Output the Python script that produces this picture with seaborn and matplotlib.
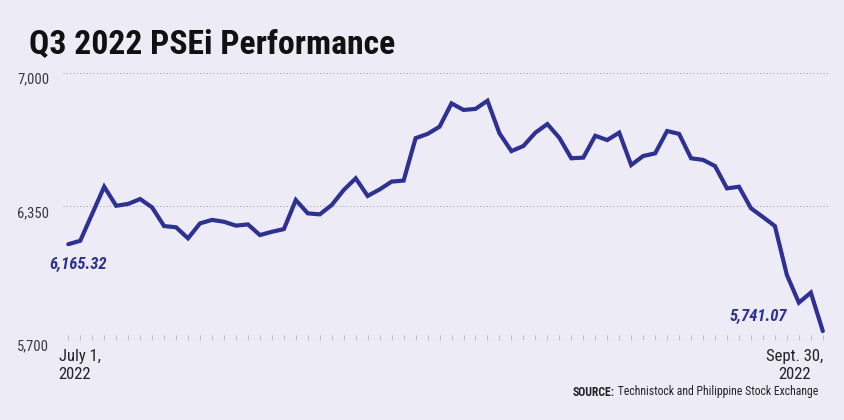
import pandas as pd
import matplotlib
matplotlib.use("Agg")
import matplotlib.pyplot as plt
import matplotlib.transforms as mtransforms
from matplotlib import font_manager
import seaborn as sns

# PSEi closing values, Q3 2022, one per trading day
psei_close = [6165.32, 6182, 6314, 6446, 6353, 6362, 6386, 6345, 6254, 6248,
              6194, 6267, 6284, 6275, 6256, 6262, 6210, 6226, 6239, 6381,
              6316, 6311, 6357, 6430, 6487, 6401, 6433, 6471, 6476, 6683,
              6704, 6739, 6853, 6821, 6826, 6866, 6707, 6620, 6645, 6710,
              6752, 6685, 6585, 6588, 6695, 6674, 6710, 6552, 6596, 6609,
              6718, 6704, 6585, 6577, 6547, 6438, 6446, 6341, 6298, 6254,
              6015, 5880, 5929, 5741.07]
y_ticks = [5700, 6350, 7000]
y_tick_labels = ["5,700", "6,350", "7,000"]
start_label = "July 1,\n2022"
end_label = "Sept. 30,\n2022"
start_value_label = "6,165.32"
end_value_label = "5,741.07"

df = pd.DataFrame({"day": range(len(psei_close)), "close": psei_close})

bg = "#EDECF6"
navy = "#2E3192"

sns.set_theme(style="white", rc={"figure.facecolor": bg, "axes.facecolor": bg})

# pick a condensed face if the system has one
names = {f.name for f in font_manager.fontManager.ttflist}
fam = "DejaVu Sans"
narrow = False
for cand in ["Roboto Condensed", "Open Sans Condensed", "Liberation Sans Narrow"]:
    if cand in names:
        fam = cand
        narrow = True
        break
plt.rcParams["font.family"] = [fam, "DejaVu Sans"]
plt.rcParams["font.stretch"] = "condensed"
k = 1.0 if narrow else 0.88  # DejaVu condensed runs wider, shrink a bit

fig = plt.figure(figsize=(8.45, 4.2), dpi=100)
ax = fig.add_axes([63 / 845, 80.5 / 420, 767 / 845, 269.5 / 420])

sns.lineplot(data=df, x="day", y="close", ax=ax, color=navy, linewidth=3.0,
             solid_joinstyle="miter", zorder=5)

ax.set_xlim(-0.44, len(psei_close) - 1 + 0.6)
ax.set_ylim(5700, 7016)
for s in ax.spines.values():
    s.set_visible(False)

ax.set_yticks(y_ticks)
ax.set_yticklabels(y_tick_labels)
ax.grid(axis="y", linestyle=(0, (1, 2)), color="#aaaaaa", linewidth=0.8)
ax.grid(axis="x", visible=False)
ax.axhline(5700, linestyle=(0, (1, 2)), color="#aaaaaa", linewidth=0.8, zorder=1)
ax.set_xlabel("")
ax.set_ylabel("")
ax.set_xticks([])
ax.set_xticks(range(len(psei_close)), minor=True)
ax.tick_params(axis="x", which="minor", direction="in", length=3.5, width=0.5,
               color="#b0b0b0", bottom=True)
ax.tick_params(axis="y", length=0, pad=10, labelsize=10.5 * k, labelcolor="#3a3a3a")
offset = mtransforms.ScaledTranslation(0, -5 / 100, fig.dpi_scale_trans)
for lab in ax.get_yticklabels():
    lab.set_transform(lab.get_transform() + offset)

# date labels at both ends
trans = mtransforms.blended_transform_factory(ax.transData, fig.transFigure)
ax.text(-0.8, 1 - 349 / 420, start_label, transform=trans, ha="left", va="top",
        fontsize=12 * k, color="#222222", linespacing=1.25)
ax.text(len(psei_close) - 1, 1 - 349 / 420, end_label, transform=trans, ha="right",
        va="top", fontsize=12 * k, color="#222222", linespacing=1.25,
        multialignment="center")

# first and last values
ax.text(-1.6, 6065, start_value_label, ha="left", va="center",
        fontsize=12 * k, fontstyle="italic", fontweight="bold", color=navy)
ax.text(60.0, 5812, end_value_label, ha="right", va="center",
        fontsize=12 * k, fontstyle="italic", fontweight="bold", color=navy)

# title and source
fig.text(29 / 845, 1 - 53 / 420, "Q3 2022 PSEi Performance", ha="left",
         va="baseline", fontsize=24.3 * k, fontweight="bold", color="#111111")
src = fig.text(818 / 845, 1 - 392 / 420, " Technistock and Philippine Stock Exchange",
               ha="right", va="center", fontsize=8.5 * k, color="#222222")
ax.annotate("SOURCE:", xy=(0, 0.5), xycoords=src, ha="right", va="center",
            fontsize=8.5 * k, fontweight="bold", color="#222222", annotation_clip=False)

fig.savefig("out.png", dpi=100, facecolor=bg)
